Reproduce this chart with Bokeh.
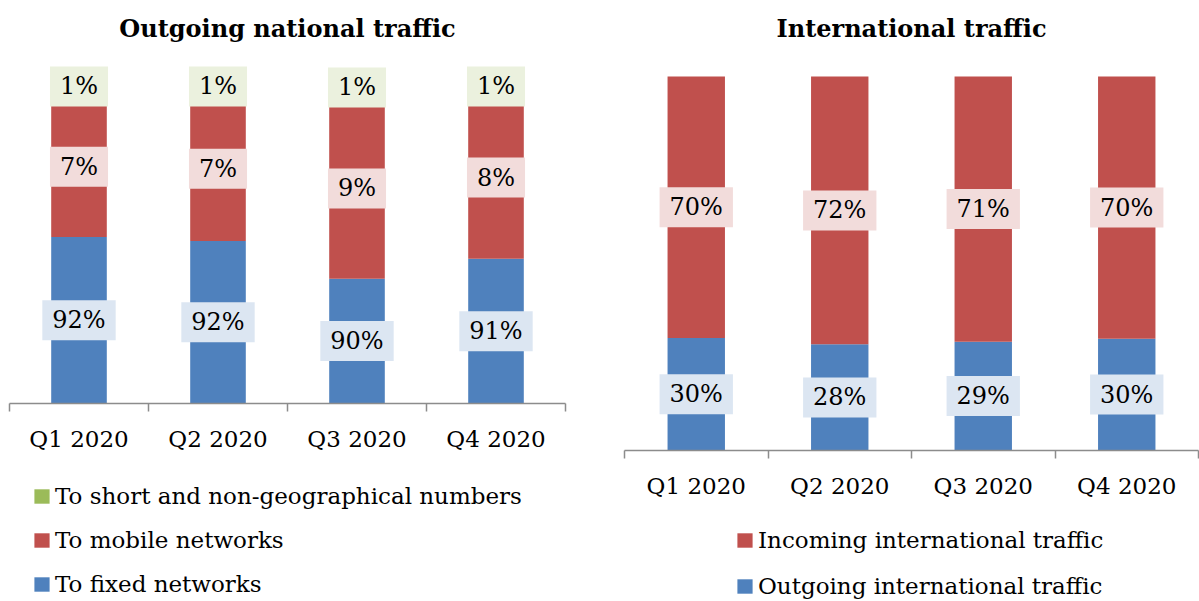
from bokeh.plotting import figure
from bokeh.models import Range1d, FixedTicker, ColumnDataSource, Legend, LegendItem
from bokeh.layouts import row, column
from bokeh.core.properties import value
from bokeh.embed import file_html
from bokeh.resources import INLINE
import numpy as np

# ---- data ----
quarters = ["Q1 2020", "Q2 2020", "Q3 2020", "Q4 2020"]
nat_fixed = [91.9, 91.7, 89.8, 90.8]       # To fixed networks (%)
nat_mobile = [7.1, 7.3, 9.1, 8.2]          # To mobile networks (%)
nat_short = [1.0, 1.0, 1.1, 1.0]           # To short and non-geographical numbers (%)
intl_outgoing = [30.1, 28.4, 29.1, 29.9]   # Outgoing international traffic (%)
intl_incoming = [69.9, 71.6, 70.9, 70.1]   # Incoming international traffic (%)

nat_series = [("To fixed networks", nat_fixed), ("To mobile networks", nat_mobile),
              ("To short and non-geographical numbers", nat_short)]
intl_series = [("Outgoing international traffic", intl_outgoing),
               ("Incoming international traffic", intl_incoming)]

BLUE, RED, GREEN = "#4f81bd", "#c0504d", "#9bbb59"
BLUE_BG, RED_BG, GREEN_BG = "#dce6f2", "#f2dcdb", "#ebf1de"
SERIF = "DejaVu Serif"
AXIS_GRAY = "#8c8c8c"

FRAME_TOP = 50      # px from figure top to frame top
BAR_TOP = 76        # px from figure top to the 100% line


def make_chart(title, width, height, b_left, b_right, b_bottom, y_start, series, colors, bgs):
    frame_h = height - b_bottom - FRAME_TOP
    y_end = y_start + (100 - y_start) * frame_h / (frame_h - (BAR_TOP - FRAME_TOP))
    p = figure(width=width, height=height, x_range=Range1d(0, len(quarters)),
               y_range=Range1d(y_start, y_end), output_backend="svg", toolbar_location=None,
               y_axis_location=None, min_border_left=b_left, min_border_right=b_right,
               min_border_bottom=b_bottom, min_border_top=FRAME_TOP, title=title)
    p.outline_line_color = None
    p.grid.grid_line_color = None

    p.title.align = "center"
    p.title.text_font = SERIF
    p.title.text_font_style = "bold"
    p.title.text_font_size = "24px"
    p.title.text_color = "black"
    p.title.standoff = 16

    xs = np.arange(len(quarters)) + 0.5
    ax = p.xaxis[0]
    ax.ticker = FixedTicker(ticks=list(xs), minor_ticks=list(np.arange(len(quarters) + 1)))
    ax.major_label_overrides = {float(x): q for x, q in zip(xs, quarters)}
    ax.major_tick_out = 0
    ax.major_tick_in = 0
    ax.minor_tick_out = 8
    ax.minor_tick_in = 0
    ax.minor_tick_line_color = AXIS_GRAY
    ax.minor_tick_line_width = 1.5
    ax.axis_line_color = AXIS_GRAY
    ax.axis_line_width = 1.5
    ax.major_label_text_font = SERIF
    ax.major_label_text_font_size = "23px"
    ax.major_label_text_color = "black"
    ax.major_label_standoff = 14

    bottom = np.zeros(len(quarters))
    for (name, vals), col, bg in zip(series, colors, bgs):
        vals = np.array(vals, dtype=float)
        top = bottom + vals
        vis_bottom = np.maximum(bottom, y_start)
        src = ColumnDataSource(dict(x=xs, bottom=bottom, top=top,
                                    yc=(vis_bottom + top) / 2,
                                    lbl=[f"{round(v)}%" for v in vals]))
        p.vbar(x="x", bottom="bottom", top="top", width=0.4, source=src,
               fill_color=col, line_color=None)
        p.text(x="x", y="yc", text="lbl", source=src, text_align="center",
               text_baseline="middle", text_font=value(SERIF), text_font_size=value("24px"),
               text_color="black", background_fill_color=bg,
               padding=dict(x=10, y=6))
        bottom = top
    return p


def make_legend(width, height, series, colors, order, loc, spacing):
    lp = figure(width=width, height=height, x_range=Range1d(0, 1), y_range=Range1d(0, 1),
                output_backend="svg", toolbar_location=None, x_axis_location=None,
                y_axis_location=None, min_border=0)
    lp.outline_line_color = None
    lp.grid.grid_line_color = None
    xs = np.arange(len(quarters)) + 0.5
    rends = {}
    for (n, vals), c in zip(series, colors):
        # hidden copy of the series, used only to draw the legend swatch
        r = lp.vbar(x=xs, top=vals, width=0.4, fill_color=c, line_color=None, visible=False)
        rends[n] = r
    items = [LegendItem(label=n, renderers=[rends[n]]) for n in order]
    leg = Legend(items=items, location=loc, border_line_color=None,
                 background_fill_alpha=0, padding=0, margin=0, spacing=spacing,
                 label_height=30, glyph_width=19, glyph_height=18, label_standoff=4,
                 label_text_font=SERIF, label_text_font_size="23px",
                 label_text_color="black", inactive_fill_alpha=0)
    lp.add_layout(leg)
    return lp


left = make_chart("Outgoing national traffic", 616, 470, 9, 51, 67, 83.5, nat_series,
                  [BLUE, RED, GREEN], [BLUE_BG, RED_BG, GREEN_BG])
left_leg = make_legend(616, 131, nat_series, [BLUE, RED, GREEN],
                       ["To short and non-geographical numbers", "To mobile networks",
                        "To fixed networks"], (23, 2), 14)
right = make_chart("International traffic", 583, 510, 8, 1, 60, 0, intl_series,
                   [BLUE, RED], [BLUE_BG, RED_BG])
right_leg = make_legend(583, 91, intl_series, [BLUE, RED],
                        ["Incoming international traffic", "Outgoing international traffic"],
                        (111, 0), 16)

layout = row(column(left, left_leg), column(right, right_leg))
open("out.html", "w").write(file_html(layout, INLINE))
